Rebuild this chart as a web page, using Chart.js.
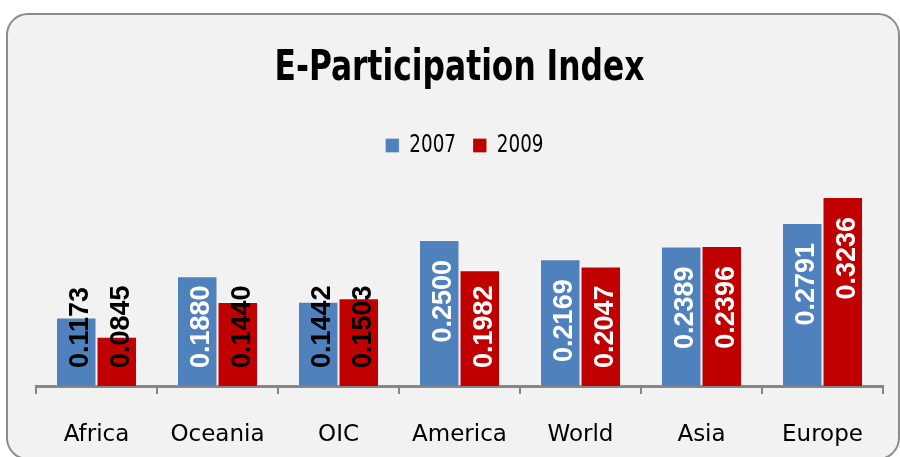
<!DOCTYPE html>
<html>
<head>
<meta charset="utf-8">
<script src="https://cdn.jsdelivr.net/npm/chart.js@4/dist/chart.umd.min.js"></script>
<style>
  html, body { margin: 0; padding: 0; background: #fff; }
  #wrap { position: relative; width: 900px; height: 457px; overflow: hidden; }
  #frame {
    position: absolute; left: 6px; top: 13px;
    width: 890px; height: 443px;
    border: 2px solid #8c8c8c; border-radius: 22px;
    background: #f2f2f2;
  }
  #box { position: absolute; left: 0; top: 0; width: 900px; height: 457px; }
</style>
</head>
<body>
<div id="wrap">
  <div id="frame"></div>
  <div id="box"><canvas id="chart"></canvas></div>
</div>
<script>
const regions = ['Africa', 'Oceania', 'OIC', 'America', 'World', 'Asia', 'Europe'];
const years = ['2007', '2009'];
const index2007 = [0.1173, 0.1880, 0.1442, 0.2500, 0.2169, 0.2389, 0.2791];
const index2009 = [0.0845, 0.1440, 0.1503, 0.1982, 0.2047, 0.2396, 0.3236];

const condensed = '"Liberation Sans Narrow", "DejaVu Sans Condensed", sans-serif';

// no narrow font here, so squeeze the title and legend sideways
function squeeze(box, s, shift) {
    const orig = box.draw.bind(box);
    box.draw = function (area) {
        const ctx = box.ctx;
        const cx = box.left + box.width / 2;
        ctx.save();
        ctx.translate(cx + shift, 0);
        ctx.scale(s, 1);
        ctx.translate(-cx, 0);
        orig(area);
        ctx.restore();
    };
}

const narrowText = {
    id: 'narrowText',
    afterInit(chart) {
        squeeze(chart.titleBlock, 0.81, 0);
        squeeze(chart.legend, 0.85, 5);
    }
};

// values written upright inside the bars, pushed down to the base when they don't fit
const barLabels = {
    id: 'barLabels',
    afterDatasetsDraw(chart) {
        const ctx = chart.ctx;
        const axisY = chart.scales.y.getPixelForValue(0);
        ctx.save();
        ctx.font = 'bold 27px "Liberation Sans", Arial, sans-serif';
        ctx.textBaseline = 'middle';
        ctx.textAlign = 'left';
        chart.data.datasets.forEach((ds, di) => {
            chart.getDatasetMeta(di).data.forEach((bar, i) => {
                const text = ds.data[i].toFixed(4);
                const len = ctx.measureText(text).width;
                const bottom = Math.min(bar.y + 20 + len, axisY - 18);
                ctx.save();
                ctx.fillStyle = (bottom - len < bar.y) ? '#000' : '#fff';
                ctx.translate(bar.x + 4.5, bottom);
                ctx.rotate(-Math.PI / 2);
                ctx.fillText(text, 0, 0);
                ctx.restore();
            });
        });
        ctx.restore();
    }
};

new Chart(document.getElementById('chart'), {
    type: 'bar',
    data: {
        labels: regions,
        datasets: [{
            label: years[0],
            data: index2007,
            backgroundColor: '#4f81bd',
            borderColor: 'rgba(255,255,255,0.3)',
            borderWidth: 1,
            categoryPercentage: 0.67,
            barPercentage: 1.0
        }, {
            label: years[1],
            data: index2009,
            backgroundColor: '#c00000',
            borderColor: 'rgba(255,255,255,0.3)',
            borderWidth: 1,
            categoryPercentage: 0.67,
            barPercentage: 1.0
        }]
    },
    options: {
        responsive: true,
        maintainAspectRatio: false,
        animation: false,
        layout: { padding: { left: 36, right: 17, top: 0, bottom: 11 } },
        plugins: {
            title: {
                display: true,
                text: 'E-Participation Index',
                color: '#000',
                font: { family: condensed, size: 43, weight: 'bold' },
                padding: { top: 43, bottom: 19 }
            },
            legend: {
                display: true,
                labels: {
                    color: '#000',
                    font: { family: condensed, size: 24 },
                    boxWidth: 16,
                    boxHeight: 14,
                    padding: 20
                }
            },
            tooltip: { enabled: false }
        },
        scales: {
            x: {
                afterFit(scale) { scale.height = 60; },
                grid: {
                    offset: true,
                    drawOnChartArea: false,
                    drawTicks: true,
                    tickLength: 8,
                    color: '#868686',
                    lineWidth: 2
                },
                border: { display: true, color: '#868686', width: 3 },
                ticks: {
                    color: '#000',
                    font: { family: '"DejaVu Sans", sans-serif', size: 23 },
                    padding: 27,
                    maxRotation: 0
                }
            },
            y: {
                display: false,
                min: 0,
                max: 0.374
            }
        }
    },
    plugins: [narrowText, barLabels]
});
</script>
</body>
</html>
